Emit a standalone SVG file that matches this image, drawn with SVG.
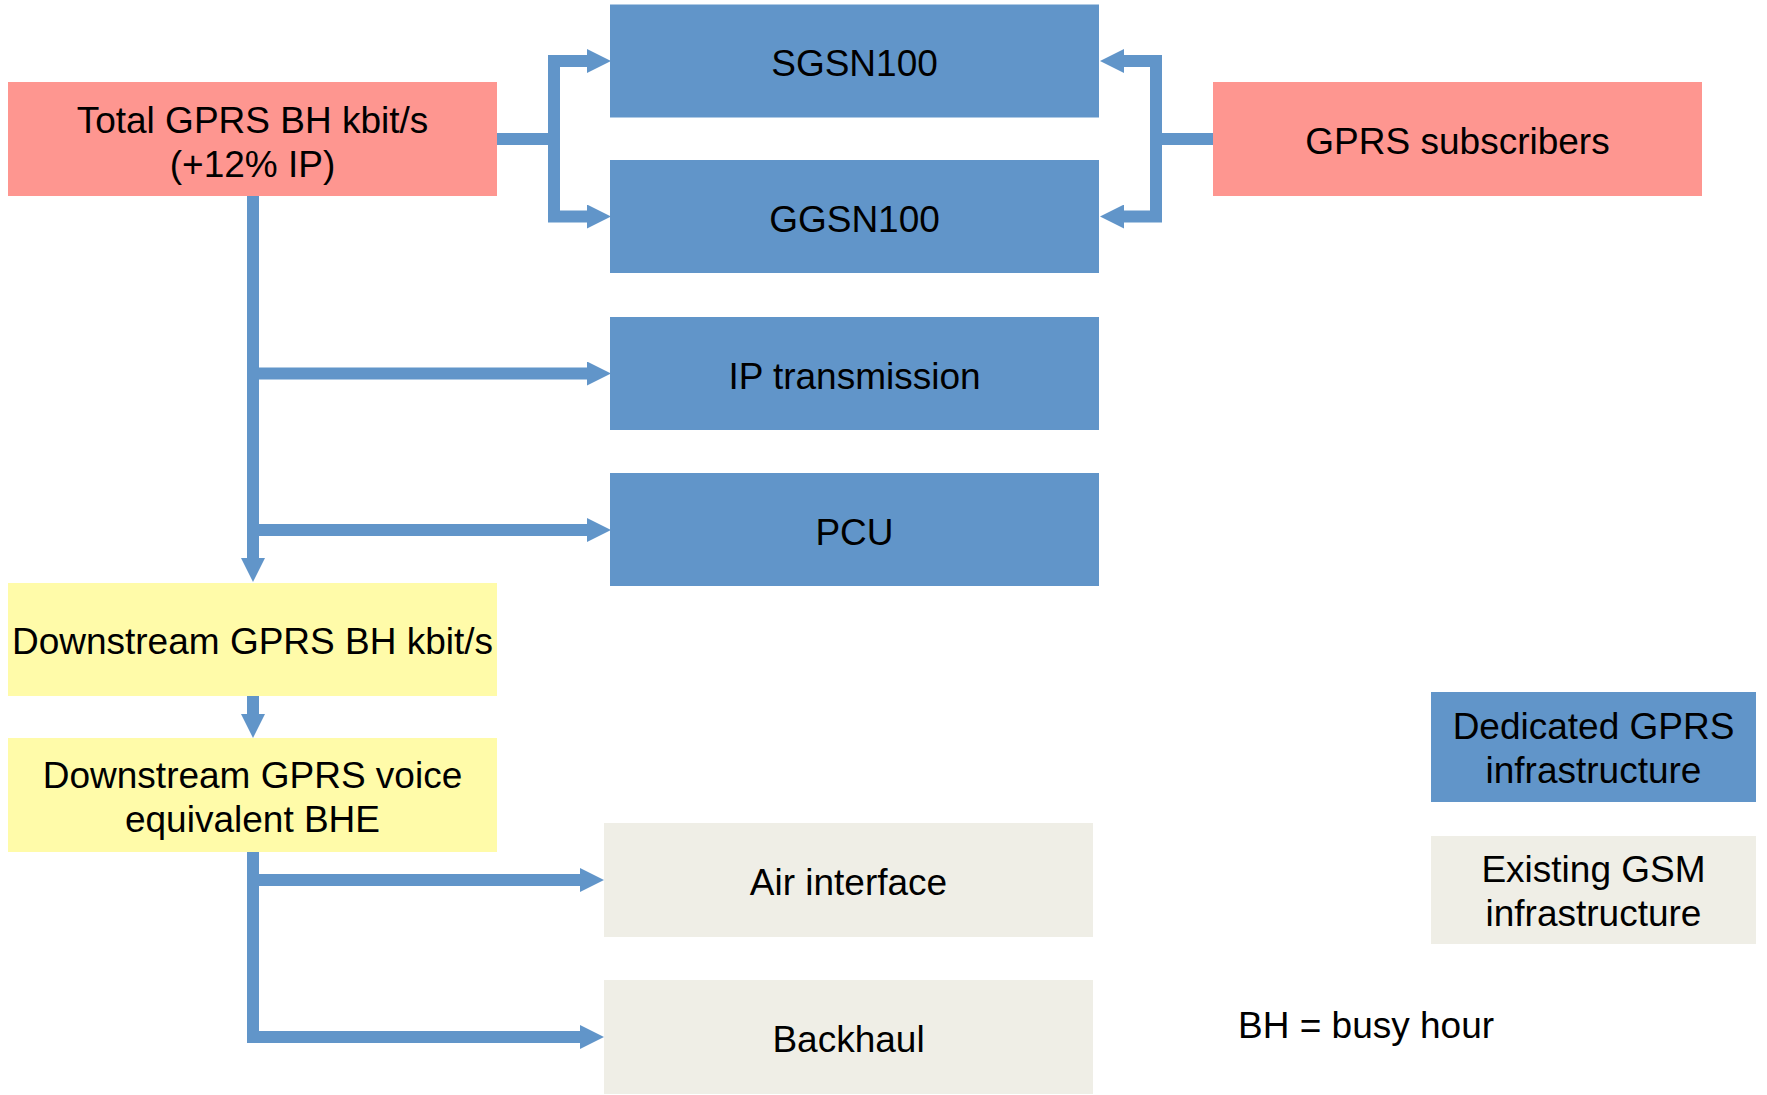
<svg xmlns="http://www.w3.org/2000/svg" width="1767" height="1095" viewBox="0 0 1767 1095">
<defs>
<style>
.blue{fill:#6195c9}
.pink{fill:#fe9690}
.yellow{fill:#fffba9}
.grey{fill:#efeee6}
text{font-family:"Liberation Sans",Arial,sans-serif;font-size:37px;fill:#000;text-anchor:middle}
.conn path{fill:none;stroke:#6195c9;stroke-width:12;stroke-linejoin:miter;stroke-linecap:butt}
</style>
<marker id="ah" viewBox="0 0 24 24" refX="2" refY="12" markerWidth="24" markerHeight="24" markerUnits="userSpaceOnUse" orient="auto">
<path d="M0,0 L24,12 L0,24 z" fill="#6195c9"/>
</marker>
</defs>
<rect width="1767" height="1095" fill="#ffffff"/>

<g id="connectors" class="conn">
<path d="M497,139 H554"/>
<path d="M554,139 V61 H589" marker-end="url(#ah)"/>
<path d="M554,139 V216.5 H589" marker-end="url(#ah)"/>
<path d="M1213,139 H1156"/>
<path d="M1156,139 V61 H1122" marker-end="url(#ah)"/>
<path d="M1156,139 V216.5 H1122" marker-end="url(#ah)"/>
<path d="M253,195 V560" marker-end="url(#ah)"/>
<path d="M253,373.5 H589" marker-end="url(#ah)"/>
<path d="M253,530 H589" marker-end="url(#ah)"/>
<path d="M253,695 V716" marker-end="url(#ah)"/>
<path d="M253,851 V1037 H582" marker-end="url(#ah)"/>
<path d="M253,880 H582" marker-end="url(#ah)"/>
</g>

<g id="total">
<rect class="pink" x="8" y="82" width="489" height="114"/>
<text x="252.5" y="132.5">Total GPRS BH kbit/s</text>
<text x="252.5" y="176.5">(+12% IP)</text>
</g>
<g id="sgsn">
<rect class="blue" x="610" y="4.5" width="489" height="113"/>
<text x="854.5" y="75.5">SGSN100</text>
</g>
<g id="ggsn">
<rect class="blue" x="610" y="160" width="489" height="113"/>
<text x="854.5" y="231.5">GGSN100</text>
</g>
<g id="ip">
<rect class="blue" x="610" y="317" width="489" height="113"/>
<text x="854.5" y="388.5">IP transmission</text>
</g>
<g id="pcu">
<rect class="blue" x="610" y="473" width="489" height="113"/>
<text x="854.5" y="544.5">PCU</text>
</g>
<g id="subscribers">
<rect class="pink" x="1213" y="82" width="489" height="114"/>
<text x="1457.5" y="153.5">GPRS subscribers</text>
</g>
<g id="downstream">
<rect class="yellow" x="8" y="583" width="489" height="113"/>
<text x="252.5" y="653.5">Downstream GPRS BH kbit/s</text>
</g>
<g id="voice">
<rect class="yellow" x="8" y="738" width="489" height="114"/>
<text x="252.5" y="787.5">Downstream GPRS voice</text>
<text x="252.5" y="831.5">equivalent BHE</text>
</g>
<g id="air">
<rect class="grey" x="604" y="823" width="489" height="114"/>
<text x="848.5" y="894.5">Air interface</text>
</g>
<g id="backhaul">
<rect class="grey" x="604" y="980" width="489" height="114"/>
<text x="848.5" y="1051.5">Backhaul</text>
</g>
<g id="legend-dedicated">
<rect class="blue" x="1431" y="692" width="325" height="110"/>
<text x="1593.5" y="739">Dedicated GPRS</text>
<text x="1593.5" y="783">infrastructure</text>
</g>
<g id="legend-existing">
<rect class="grey" x="1431" y="836" width="325" height="108"/>
<text x="1593.5" y="882">Existing GSM</text>
<text x="1593.5" y="926">infrastructure</text>
</g>
<g id="note">
<text x="1238" y="1038" style="text-anchor:start">BH = busy hour</text>
</g>
</svg>
